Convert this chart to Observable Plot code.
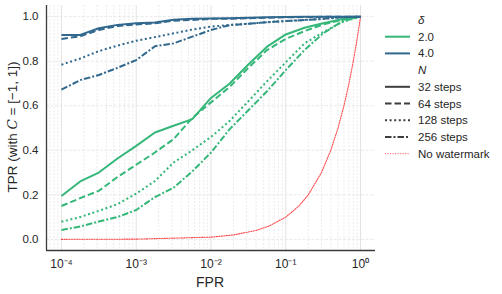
<!DOCTYPE html>
<html><head><meta charset="utf-8">
<script src="https://cdn.jsdelivr.net/npm/d3@7"></script>
<script src="https://cdn.jsdelivr.net/npm/@observablehq/plot@0.6"></script>
<style>
body{margin:0;background:#fff;font-family:"Liberation Sans",Arial,sans-serif;color:#262626;}
#wrap{position:relative;width:502px;height:294px;overflow:hidden;}
#wrap svg{display:block;}
.lab{position:absolute;white-space:nowrap;color:#262626;}
</style></head><body><div id="wrap"></div>
<script>
// shared FPR grid (read at quarter-decade positions)
const fpr = [0.0001, 0.000178, 0.000316, 0.000562, 0.001, 0.00178, 0.00316, 0.00562, 0.01, 0.0178, 0.0316, 0.0562, 0.1, 0.178, 0.316, 0.562, 1];

// delta = 2.0
const tprD2N32  = [0.195, 0.26, 0.30, 0.363, 0.42, 0.48, 0.51, 0.54, 0.635, 0.70, 0.785, 0.865, 0.92, 0.95, 0.97, 0.988, 1.0];
const tprD2N64  = [0.15, 0.185, 0.218, 0.28, 0.335, 0.39, 0.45, 0.545, 0.615, 0.685, 0.77, 0.85, 0.90, 0.935, 0.965, 0.985, 1.0];
const tprD2N128 = [0.079, 0.10, 0.128, 0.158, 0.205, 0.262, 0.345, 0.40, 0.46, 0.532, 0.62, 0.71, 0.795, 0.88, 0.93, 0.975, 1.0];
const tprD2N256 = [0.042, 0.058, 0.08, 0.10, 0.132, 0.19, 0.232, 0.305, 0.39, 0.495, 0.58, 0.665, 0.76, 0.85, 0.925, 0.978, 1.0];
// delta = 4.0
const tprD4N32  = [0.918, 0.918, 0.948, 0.963, 0.97, 0.974, 0.986, 0.99, 0.992, 0.993, 0.995, 0.997, 0.998, 0.999, 1.0, 1.0, 1.0];
const tprD4N64  = [0.90, 0.912, 0.94, 0.958, 0.965, 0.97, 0.982, 0.985, 0.99, 0.99, 0.993, 0.995, 0.997, 0.998, 0.999, 1.0, 1.0];
const tprD4N128 = [0.784, 0.812, 0.845, 0.87, 0.892, 0.908, 0.925, 0.942, 0.955, 0.963, 0.968, 0.975, 0.98, 0.985, 0.99, 0.997, 1.0];
const tprD4N256 = [0.672, 0.715, 0.738, 0.77, 0.805, 0.867, 0.88, 0.91, 0.94, 0.962, 0.968, 0.975, 0.98, 0.985, 0.99, 0.997, 1.0];

// no watermark baseline (TPR equals FPR)
const fprNoWm = [0.0001, 0.001, 0.01, 0.02, 0.04, 0.06, 0.1, 0.15, 0.2, 0.3, 0.4, 0.5, 0.6, 0.7, 0.8, 0.9, 1.0];
const tprNoWm = [0.0001, 0.001, 0.01, 0.02, 0.04, 0.06, 0.1, 0.15, 0.2, 0.3, 0.4, 0.5, 0.6, 0.7, 0.8, 0.9, 1.0];

const deltas = ["2.0", "4.0"];
const stepLabels = ["32 steps", "64 steps", "128 steps", "256 steps"];
const xTicks = [1e-4, 1e-3, 1e-2, 1e-1, 1];
const xTickLabels = ["10\u207B\u2074", "10\u207B\u00B3", "10\u207B\u00B2", "10\u207B\u00B9", "10\u2070"];
const yTicks = [0, 0.2, 0.4, 0.6, 0.8, 1.0];
const noWmLabel = "No watermark";

const colors = {"2.0": "#35b779", "4.0": "#31688e"};
const dashes = {"32 steps": null, "64 steps": "6.5,3", "128 steps": "2,2.6", "256 steps": "6.5,2,2,2"};

const seriesTable = [
  ["2.0", "32 steps", tprD2N32], ["2.0", "64 steps", tprD2N64], ["2.0", "128 steps", tprD2N128], ["2.0", "256 steps", tprD2N256],
  ["4.0", "32 steps", tprD4N32], ["4.0", "64 steps", tprD4N64], ["4.0", "128 steps", tprD4N128], ["4.0", "256 steps", tprD4N256]
];

const minor = [];
for (const d of [1e-5, 1e-4, 1e-3, 1e-2, 1e-1]) for (let k = 2; k <= 9; k++) minor.push(d * k);
const xDomain = [Math.pow(10, -4.2), Math.pow(10, 0.2)];
const minorIn = minor.filter(v => v >= xDomain[0] && v <= xDomain[1]);
const yDomain = [-0.05, 1.05];

const lineMarks = seriesTable.map(([d, s, vals]) =>
  Plot.line(fpr.map((f, i) => ({fpr: f, tpr: vals[i]})), {
    x: "fpr", y: "tpr", stroke: colors[d], strokeWidth: 2,
    strokeDasharray: dashes[s], strokeLinecap: "butt", strokeLinejoin: "round"
  })
);

const chart = Plot.plot({
  width: 380, height: 294,
  marginLeft: 46, marginRight: 5, marginTop: 5, marginBottom: 44,
  style: {fontFamily: "'Liberation Sans', Arial, sans-serif", fontSize: "11px", color: "#262626", background: "white"},
  x: {type: "log", domain: xDomain, axis: null},
  y: {domain: yDomain, axis: null},
  marks: [
    Plot.gridX(minorIn, {stroke: "#e6e6e6", strokeOpacity: 1, strokeWidth: 0.8, strokeDasharray: "2,1.5"}),
    Plot.gridX(xTicks, {stroke: "#e3e3e3", strokeOpacity: 1, strokeWidth: 1}),
    Plot.gridY(yTicks, {stroke: "#e3e3e3", strokeOpacity: 1, strokeWidth: 0.8, strokeDasharray: "3,1.5"}),
    Plot.axisX(xTicks, {tickSize: 0, tickPadding: 9, tickFormat: (d, i) => xTickLabels[xTicks.indexOf(d)], fontSize: 12, label: null}),
    Plot.axisY(yTicks, {tickSize: 0, tickPadding: 8, tickFormat: d => d.toFixed(1), fontSize: 11.5, label: null}),
    Plot.line(fprNoWm.map((f, i) => ({fpr: f, tpr: tprNoWm[i]})), {x: "fpr", y: "tpr", stroke: "#ff2a2a", strokeWidth: 1.1, strokeDasharray: "1.2,1.3", strokeOpacity: 0.85}),
    ...lineMarks,
    Plot.ruleX([xDomain[0]], {stroke: "#3a3a3a", strokeWidth: 1.3}),
    Plot.ruleY([yDomain[0]], {stroke: "#3a3a3a", strokeWidth: 1.3})
  ]
});

const wrap = document.getElementById("wrap");
wrap.appendChild(chart);

// axis labels
const xl = document.createElement("div");
xl.className = "lab";
xl.textContent = "FPR";
xl.style.cssText += "left:210px;top:282px;transform:translate(-50%,-50%);font-size:14px;";
wrap.appendChild(xl);
const yl = document.createElement("div");
yl.className = "lab";
yl.innerHTML = "TPR (with <span style='font-style:italic;font-family:\"DejaVu Serif\",serif'>C</span> = [\u22121, 1])";
yl.style.cssText += "left:12px;top:127px;transform:translate(-50%,-50%) rotate(-90deg);font-size:13.5px;";
wrap.appendChild(yl);

// legend
const lg = d3.select(wrap).append("svg")
  .attr("width", 119).attr("height", 170)
  .style("position", "absolute").style("left", "383px").style("top", "0px")
  .style("font-family", "'Liberation Sans', Arial, sans-serif").style("font-size", "11.5px");
const rows = [];
rows.push({title: "\u03B4"});
deltas.forEach(d => rows.push({label: d, stroke: colors[d], dash: null, w: 2}));
rows.push({title: "N"});
stepLabels.forEach(s => rows.push({label: s, stroke: "#3d3d3d", dash: dashes[s], w: 2}));
rows.push({label: noWmLabel, stroke: "#ff2a2a", dash: "1.2,1.3", w: 1.1, op: 0.6});
rows.forEach((r, i) => {
  const y = 20 + i * 16.7;
  if (r.title) {
    lg.append("text").attr("x", 35).attr("y", y).attr("dy", "0.35em").attr("fill", "#262626")
      .style("font-style", "italic").text(r.title);
  } else {
    lg.append("line").attr("x1", 2).attr("x2", 27).attr("y1", y).attr("y2", y)
      .attr("stroke", r.stroke).attr("stroke-width", r.w).attr("stroke-dasharray", r.dash)
      .attr("stroke-opacity", r.op || 1);
    lg.append("text").attr("x", 35).attr("y", y).attr("dy", "0.35em").attr("fill", "#262626").text(r.label);
  }
});
</script></body></html>
